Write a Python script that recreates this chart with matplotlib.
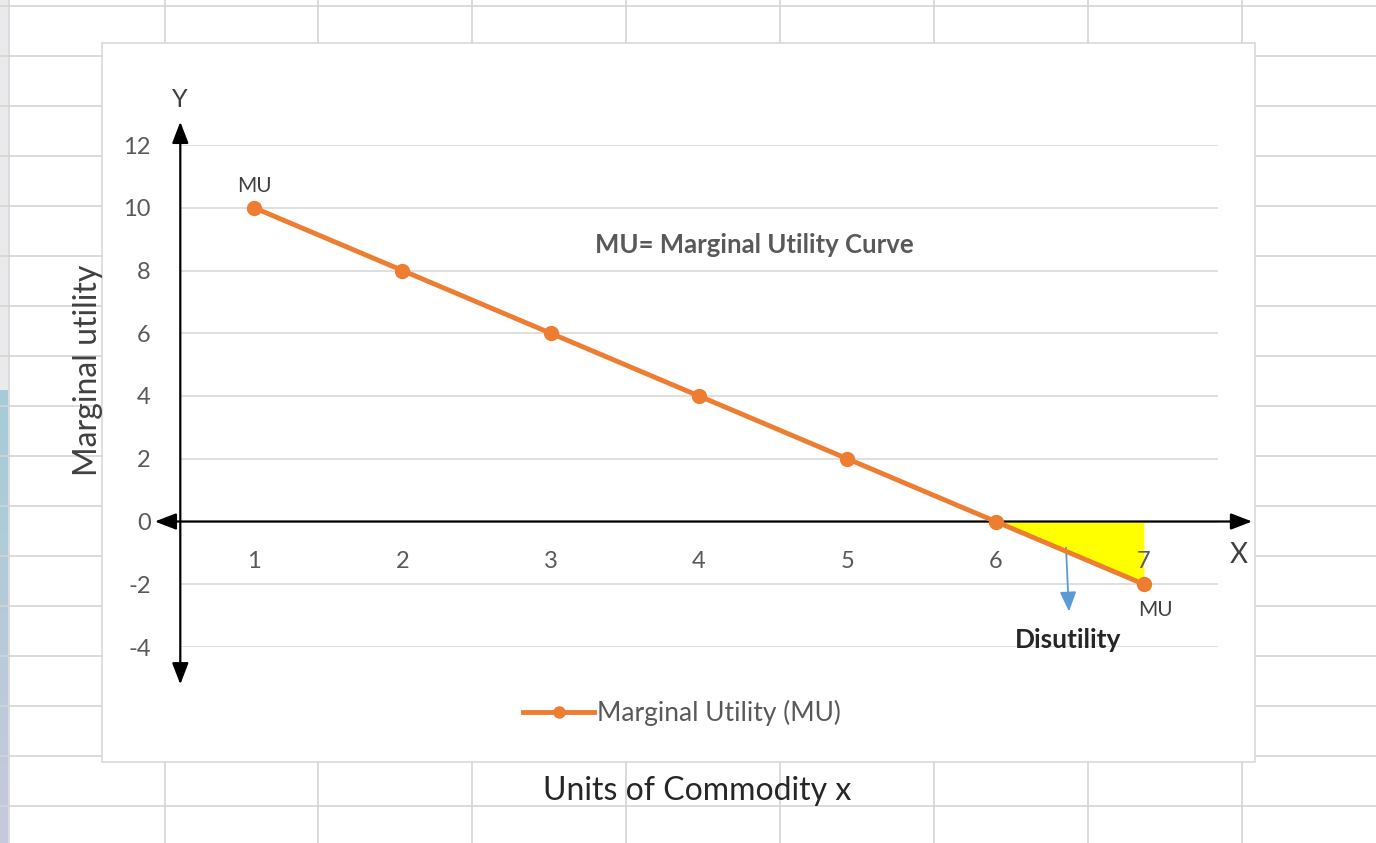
import numpy as np
import matplotlib
matplotlib.use('Agg')
import matplotlib.pyplot as plt
from matplotlib.patches import Rectangle

plt.rcParams['font.family'] = ['Lato', 'DejaVu Sans']
plt.rcParams['axes.unicode_minus'] = False

# data
units = [1, 2, 3, 4, 5, 6, 7]
mu = [10, 8, 6, 4, 2, 0, -2]
unit_labels = ['1', '2', '3', '4', '5', '6', '7']
y_ticks = [-4, -2, 0, 2, 4, 6, 8, 10, 12]

W, H = 1376, 843
fig = plt.figure(figsize=(W/100, H/100), dpi=100)

# spreadsheet background (pixel coords)
bg = fig.add_axes([0, 0, 1, 1])
bg.set_xlim(0, W)
bg.set_ylim(H, 0)
bg.axis('off')
grid_c = '#d4d4d4'
for yy in range(6, H, 50):
    bg.axhline(yy, color=grid_c, lw=1.2)
for xx in [9, 165, 318, 472, 626, 780, 934, 1088, 1242]:
    bg.axvline(xx, color=grid_c, lw=1.2)
# left strip gradient
grad = np.zeros((H, 1, 3))
for i in range(H):
    if i < 390:
        grad[i, 0] = [0.92, 0.92, 0.93]
    else:
        t = (i - 390) / (H - 390)
        grad[i, 0] = [0.65 + 0.13*t, 0.80 - 0.01*t, 0.85 + 0.01*t]
bg.imshow(grad, extent=(0, 8, H, 0), aspect='auto')
# chart area
bg.add_patch(Rectangle((102, 43), 1153, 719, facecolor='white', edgecolor='#d9d9d9', lw=1.2, zorder=3))

# main plot
ax = fig.add_axes([180/W, 1 - 647/H, (1218-180)/W, (647-145)/H])
ax.set_zorder(5)
ax.patch.set_alpha(0)
ax.set_xlim(0.5, 7.5)
ax.set_ylim(-4, 12)
for s in ax.spines.values():
    s.set_visible(False)
ax.set_xticks([])
ax.set_yticks(y_ticks)
ax.tick_params(axis='y', length=0, pad=21, labelsize=17, labelcolor='#595959')
for t in y_ticks:
    ax.axhline(t, color='#d9d9d9', lw=1.2, zorder=0)

x_arr = np.array(units, dtype=float)
y_arr = np.array(mu, dtype=float)
ax.fill_between(x_arr[5:], y_arr[5:], 0, color='#ffff00', lw=0, zorder=1)

ax.plot(units, mu, color='#ed7d31', lw=3.5, marker='o', ms=10,
        label='Marginal Utility (MU)', zorder=4, clip_on=False)

# axis arrows
head = '<|-|>,head_length=0.65,head_width=0.25'
ax.annotate('', xy=(0.502, 12.74), xytext=(0.502, -5.19),
            arrowprops=dict(arrowstyle=head, color='black', lw=1.6, mutation_scale=20,
                            shrinkA=0, shrinkB=0), annotation_clip=False)
ax.annotate('', xy=(7.73, 0), xytext=(0.33, 0),
            arrowprops=dict(arrowstyle=head, color='black', lw=1.6, mutation_scale=20,
                            shrinkA=0, shrinkB=0), annotation_clip=False, zorder=3)

for u, lab in zip(units, unit_labels):
    ax.text(u, -1.27, lab, ha='center', va='center', fontsize=17, color='#595959')

ax.text(7.64, -1.08, 'X', ha='center', va='center', fontsize=20, color='#404040')
ax.text(0.5, 13.44, 'Y', ha='center', va='center', fontsize=18, color='#404040', clip_on=False)
ax.text(1.0, 10.7, 'MU', ha='center', va='center', fontsize=15, color='#404040')
ax.text(7.08, -2.83, 'MU', ha='center', va='center', fontsize=15, color='#404040')
ax.text(4.37, 8.82, 'MU= Marginal Utility Curve', ha='center', va='center',
        fontsize=18.5, fontweight='bold', color='#595959')
ax.text(6.49, -3.79, 'Disutility', ha='center', va='center',
        fontsize=19, fontweight='bold', color='#262626')
ax.annotate('', xy=(6.495, -2.87), xytext=(6.475, -0.83),
            arrowprops=dict(arrowstyle='-|>,head_length=0.6,head_width=0.25', color='#5b9bd5',
                            lw=1.3, mutation_scale=20, shrinkA=0, shrinkB=0))

leg = fig.legend(loc='center', bbox_to_anchor=(682/W, 1 - 713/H), frameon=False,
                 fontsize=19, handlelength=2.7, handletextpad=0.1, markerscale=0.8)
for t in leg.get_texts():
    t.set_color('#595959')

fig.text(88/W, 1 - 370/H, 'Marginal utility', rotation=90, ha='center', va='center',
         fontsize=23, color='#404040')
fig.text(697/W, 1 - 791/H, 'Units of Commodity x', ha='center', va='center',
         fontsize=23, color='#262626')

fig.savefig('out.png', dpi=100)
print("plot saved")
